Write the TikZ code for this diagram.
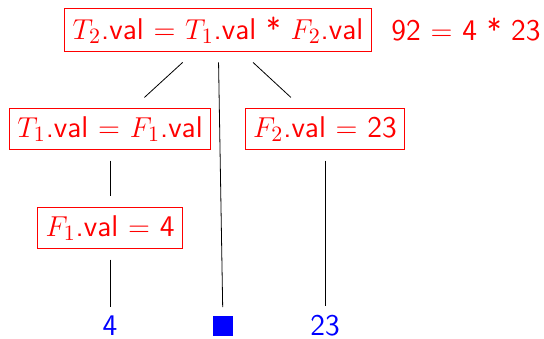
\documentclass[tikz,border=0pt]{standalone}
\usepackage{fontspec}
\usepackage{tikz}

\begin{document}
\begin{tikzpicture}[x=0.5pt,y=-0.5pt,
    attr/.style={draw=red, text=red, inner sep=4pt, outer sep=5.5pt, font=\fontsize{15}{18}\sffamily\selectfont},
    leaf/.style={text=blue, inner sep=0pt, outer sep=4.8pt, font=\fontsize{15}{18}\sffamily\selectfont},
    hole/.style={fill=blue, minimum size=10pt, inner sep=0pt, outer sep=4.5pt}]
  \useasboundingbox (0,0) rectangle (544,338);
  % annotated parse tree: attribute boxes
  \node[attr] (t2) at (218,30) {$T_2$.val $=$ $T_1$.val * $F_2$.val};
  \node[text=red, font=\fontsize{15}{18}\sffamily\selectfont] (res) at (466,30) {92 $=$ 4 * 23};
  \node[attr] (t1) at (110,129) {$T_1$.val $=$ $F_1$.val};
  \node[attr] (f2) at (325,129) {$F_2$.val $=$ 23};
  \node[attr] (f1) at (110,228) {$F_1$.val $=$ 4};
  % leaves
  \node[leaf] (n4) at (110,326) {4};
  \node[hole] (sq) at (223,326) {};
  \node[leaf] (n23) at (325,326) {23};
  % edges
  \draw (t2) -- (t1);
  \draw (t2) -- (f2);
  \draw (t2) -- (sq);
  \draw (t1) -- (f1);
  \draw (f1) -- (n4);
  \draw (f2) -- (n23);
\end{tikzpicture}
\end{document}
